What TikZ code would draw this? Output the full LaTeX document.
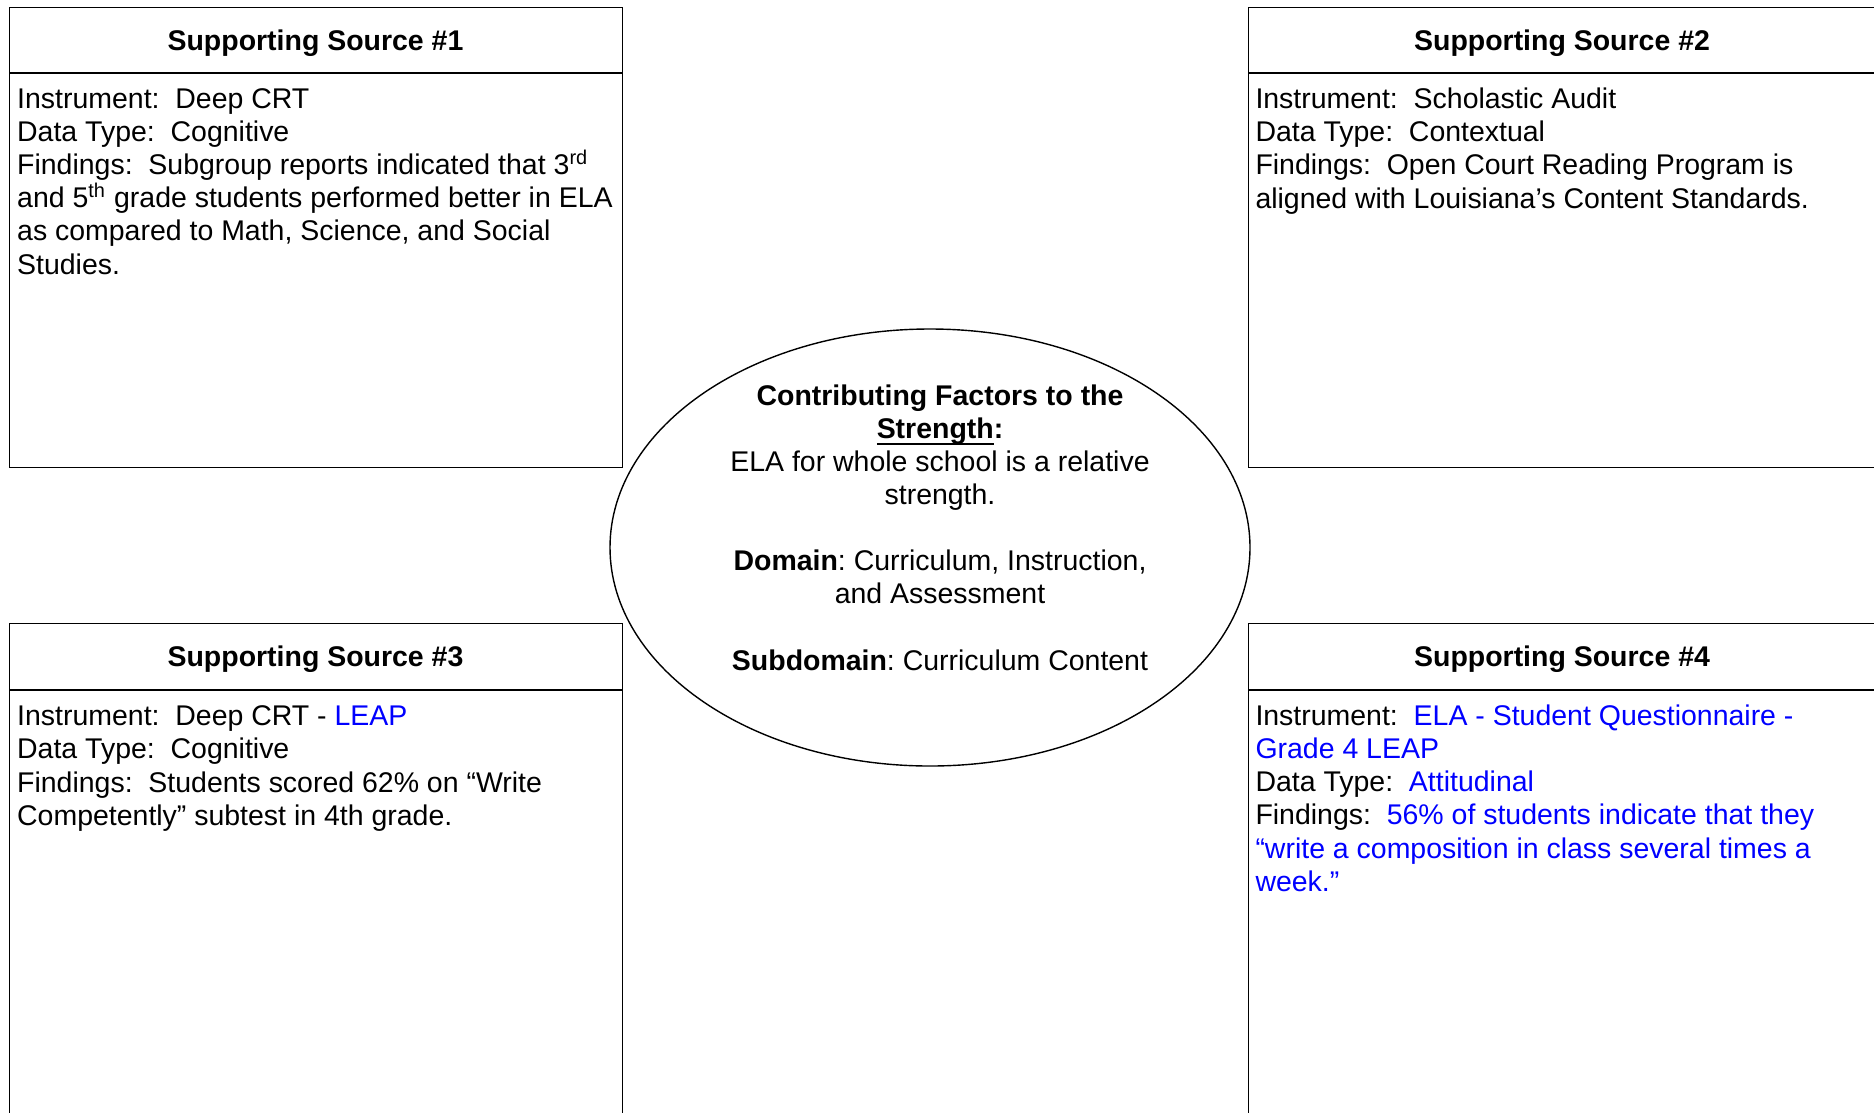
\documentclass[tikz,border=0pt]{standalone}
\usepackage{fontspec}
\setmainfont{Liberation Sans}
\usetikzlibrary{shapes.geometric}
\frenchspacing
\newlength{\du}
\setlength{\du}{0.418pt}
\definecolor{dialinecolor}{rgb}{0.000000, 0.000000, 0.000000}
\definecolor{findblue}{rgb}{0.000000, 0.000000, 1.000000}
\newsavebox{\strengthbox}
\newcommand{\strengthline}[1]{\sbox{\strengthbox}{#1}\rlap{\rule[-2.6pt]{\wd\strengthbox}{0.9pt}}\usebox{\strengthbox}}
\tikzset{
  srcbox/.style={draw=dialinecolor, line width=1.4\du, rectangle, inner sep=0pt, anchor=north west},
  srctitle/.style={anchor=base, inner sep=0pt, font=\fontsize{11.9pt}{13.8pt}\selectfont\bfseries},
  srcbody/.style={anchor=base west, inner sep=0pt, align=left, font=\fontsize{11.9pt}{13.8pt}\selectfont},
  factorsoval/.style={draw=dialinecolor, line width=1.4\du, ellipse, inner sep=0pt},
  factorsbody/.style={anchor=base, inner sep=0pt, align=center, font=\fontsize{11.9pt}{13.8pt}\selectfont}
}

\begin{document}
\begin{tikzpicture}
\pgftransformxscale{1.000000}
\pgftransformyscale{-1.000000}
\useasboundingbox (0\du,0\du) rectangle (1874\du,1112\du);
\clip (0\du,0\du) rectangle (1874\du,1112\du);
% source boxes
\node[srcbox, minimum width=613\du, minimum height=460\du] (src1) at (9\du,7\du) {};
\node[srcbox, minimum width=628\du, minimum height=460\du] (src2) at (1248\du,7\du) {};
\node[srcbox, minimum width=613\du, minimum height=520\du] (src3) at (9\du,623\du) {};
\node[srcbox, minimum width=628\du, minimum height=520\du] (src4) at (1248\du,623\du) {};
\draw[line width=1.4\du] (9\du,73\du)--(622\du,73\du);
\draw[line width=1.4\du] (1248\du,73\du)--(1876\du,73\du);
\draw[line width=1.4\du] (9\du,690\du)--(622\du,690\du);
\draw[line width=1.4\du] (1248\du,690\du)--(1876\du,690\du);
% titles
\node[srctitle] (title1) at (315.5\du,50\du){Supporting Source \#1};
\node[srctitle] (title2) at (1562\du,50\du){Supporting Source \#2};
\node[srctitle] (title3) at (315.5\du,666\du){Supporting Source \#3};
\node[srctitle] (title4) at (1562\du,666\du){Supporting Source \#4};
% findings (anchored at the last baseline)
\node[srcbody] (body1) at (16.7\du,274\du){Instrument:~ Deep CRT\\
Data Type:~ Cognitive\\
Findings:~ Subgroup reports indicated that 3\textsuperscript{rd}\\
and 5\textsuperscript{th} grade students performed better in ELA\\
as compared to Math, Science, and Social\\
Studies.};
\node[srcbody] (body2) at (1255\du,208\du){Instrument:~ Scholastic Audit\\
Data Type:~ Contextual\\
Findings:~ Open Court Reading Program is\\
aligned with Louisiana’s Content Standards.};
\node[srcbody] (body3) at (16.7\du,825\du){Instrument:~ Deep CRT - \textcolor{findblue}{LEAP}\\
Data Type:~ Cognitive\\
Findings:~ Students scored 62\% on “Write\\
Competently” subtest in 4th grade.};
\node[srcbody] (body4) at (1255\du,891\du){Instrument:~ \textcolor{findblue}{ELA - Student Questionnaire -}\\
\textcolor{findblue}{Grade 4 LEAP}\\
Data Type:~ \textcolor{findblue}{Attitudinal}\\
Findings:~ \textcolor{findblue}{56\% of students indicate that they}\\
\textcolor{findblue}{“write a composition in class several times a}\\
\textcolor{findblue}{week.”}};
% strength
\node[factorsoval, minimum width=640\du, minimum height=437\du] (factors) at (930\du,547.5\du) {};
\node[factorsbody] (factorstext) at (940\du,670\du){\textbf{Contributing Factors to the}\\
\textbf{\strengthline{Strength}:}\\
ELA for whole school is a relative\\
strength.\\[13.8pt]
\textbf{Domain}: Curriculum, Instruction,\\
and Assessment\\[13.8pt]
\textbf{Subdomain}: Curriculum Content};
\end{tikzpicture}
\end{document}
